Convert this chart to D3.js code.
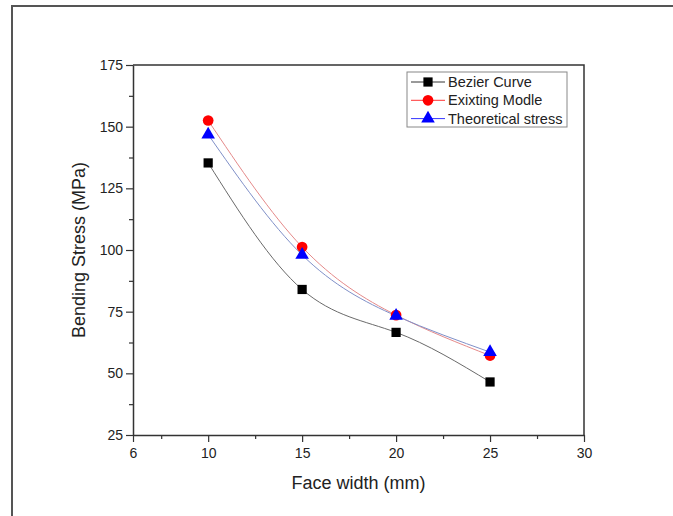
<!DOCTYPE html>
<html>
<head>
<meta charset="utf-8">
<script src="https://cdn.jsdelivr.net/npm/d3@7"></script>
<style>
  body { margin: 0; background: #fff; }
  svg { display: block; font-family: "Liberation Sans", Arial, sans-serif; }
</style>
</head>
<body>
<svg id="chart" width="673" height="516"></svg>
<script>
// Face width values (mm) and the three series (MPa)
const faceWidth = [10, 15, 20, 25];
const bezierCurve = [135.3, 84.0, 66.6, 46.5];
const existingModel = [152.5, 101.2, 73.6, 57.2];
const theoreticalStress = [146.8, 98.0, 73.3, 58.6];

const seriesNames = ["Bezier Curve", "Exixting Modle", "Theoretical stress"];

// Axis ticks
const xTicks = [6, 10, 15, 20, 25, 30];
const xMinorTicks = [7.5, 12.5, 17.5, 22.5, 27.5];
const yTicks = [25, 50, 75, 100, 125, 150, 175];
const yMinorTicks = [37.5, 62.5, 87.5, 112.5, 137.5, 162.5];

const svg = d3.select("#chart");
const W = 673, H = 516;
const plotLeft = 133, plotRight = 584, plotTop = 65, plotBottom = 435;

// Outer frame (only top and left edges visible)
svg.append("path")
  .attr("d", "M12," + H + " L12,6 L" + W + ",6")
  .attr("fill", "none")
  .attr("stroke", "#555")
  .attr("stroke-width", 2);

const x = d3.scaleLinear().domain([6, 30]).range([plotLeft, plotRight]);
const y = d3.scaleLinear().domain([25, 175]).range([plotBottom, plotTop]);

const axisColor = "#333";

// Plot box: top and right lines
svg.append("path")
  .attr("d", "M" + plotLeft + "," + plotTop + " L" + plotRight + "," + plotTop + " L" + plotRight + "," + plotBottom)
  .attr("fill", "none")
  .attr("stroke", axisColor)
  .attr("stroke-width", 1.5);

// Minor ticks
svg.append("g")
  .attr("transform", "translate(0," + plotBottom + ")")
  .call(d3.axisBottom(x).tickValues(xMinorTicks).tickSize(4).tickFormat(""))
  .call(g => g.select(".domain").remove())
  .selectAll("line").attr("stroke", axisColor).attr("stroke-width", 1.2);

svg.append("g")
  .attr("transform", "translate(" + plotLeft + ",0)")
  .call(d3.axisLeft(y).tickValues(yMinorTicks).tickSize(4).tickFormat(""))
  .call(g => g.select(".domain").remove())
  .selectAll("line").attr("stroke", axisColor).attr("stroke-width", 1.2);

// Major axes
const xAxis = svg.append("g")
  .attr("transform", "translate(0," + plotBottom + ")")
  .call(d3.axisBottom(x).tickValues(xTicks).tickSize(7).tickSizeOuter(0).tickPadding(6));

const yAxis = svg.append("g")
  .attr("transform", "translate(" + plotLeft + ",0)")
  .call(d3.axisLeft(y).tickValues(yTicks).tickSize(7).tickSizeOuter(0).tickPadding(3));

[xAxis, yAxis].forEach(a => {
  a.select(".domain").attr("stroke", axisColor).attr("stroke-width", 1.5);
  a.selectAll(".tick line").attr("stroke", axisColor).attr("stroke-width", 1.2);
  a.selectAll("text")
    .attr("fill", "#222")
    .style("font-size", "14px")
    .style("font-family", "'Liberation Sans', Arial, sans-serif");
});

// Axis titles
svg.append("text")
  .attr("x", (plotLeft + plotRight) / 2)
  .attr("y", 489)
  .attr("text-anchor", "middle")
  .attr("fill", "#222")
  .style("font-size", "18px")
  .text("Face width (mm)");

svg.append("text")
  .attr("transform", "translate(85," + (plotTop + plotBottom) / 2 + ") rotate(-90)")
  .attr("text-anchor", "middle")
  .attr("fill", "#222")
  .style("font-size", "18px")
  .text("Bending Stress (MPa)");

// Series
const series = [
  { name: seriesNames[0], values: bezierCurve, line: "#6a6a6a", color: "#000", shape: "square" },
  { name: seriesNames[1], values: existingModel, line: "#e58a8a", color: "#ff0000", shape: "circle" },
  { name: seriesNames[2], values: theoreticalStress, line: "#8090c8", color: "#0000ff", shape: "triangle" }
];

const line = d3.line()
  .x(d => x(d[0]))
  .y(d => y(d[1]))
  .curve(d3.curveNatural);

const symbols = {
  square: d3.symbol().type(d3.symbolSquare).size(85),
  circle: d3.symbol().type(d3.symbolCircle).size(90),
  triangle: d3.symbol().type(d3.symbolTriangle).size(80)
};

series.forEach(s => {
  const pts = faceWidth.map((f, i) => [f, s.values[i]]);
  svg.append("path")
    .datum(pts)
    .attr("d", line)
    .attr("fill", "none")
    .attr("stroke", s.line)
    .attr("stroke-width", 1);
});

series.forEach(s => {
  faceWidth.forEach((f, i) => {
    svg.append("path")
      .attr("d", symbols[s.shape]())
      .attr("transform", "translate(" + x(f) + "," + y(s.values[i]) + ")")
      .attr("fill", s.color);
  });
});

// Legend
const legend = svg.append("g");
legend.append("rect")
  .attr("x", 407)
  .attr("y", 72)
  .attr("width", 160)
  .attr("height", 55)
  .attr("fill", "#fff")
  .attr("stroke", "#888")
  .attr("stroke-width", 1);

series.forEach((s, i) => {
  const ly = 82 + i * 18.3;
  legend.append("line")
    .attr("x1", 411).attr("x2", 445)
    .attr("y1", ly).attr("y2", ly)
    .attr("stroke", s.color)
    .attr("stroke-width", 0.8);
  legend.append("path")
    .attr("d", symbols[s.shape]())
    .attr("transform", "translate(428," + ly + ")")
    .attr("fill", s.color);
  legend.append("text")
    .attr("x", 448)
    .attr("y", ly + 5)
    .attr("fill", "#222")
    .style("font-size", "14.5px")
    .text(s.name);
});
</script>
</body>
</html>
